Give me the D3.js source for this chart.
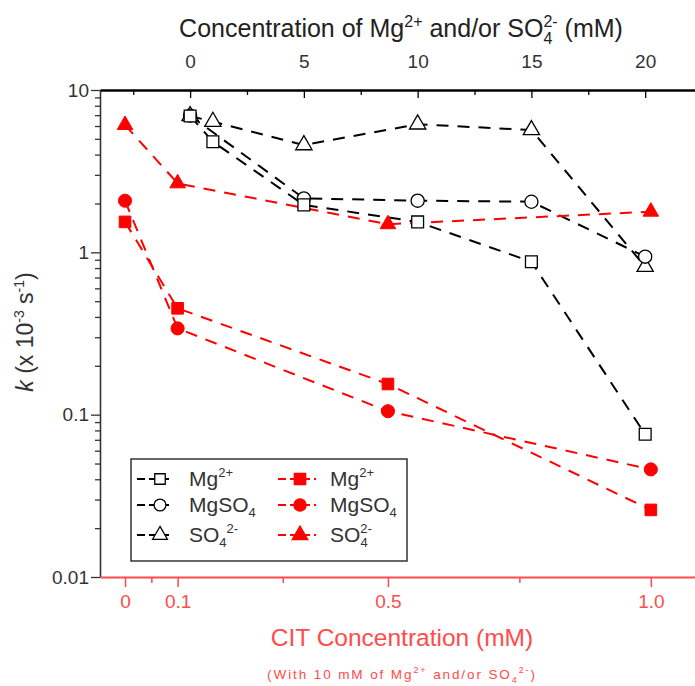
<!DOCTYPE html>
<html><head><meta charset="utf-8">
<script src="https://cdn.jsdelivr.net/npm/d3@7"></script>
<style>
html,body{margin:0;padding:0;background:#fff;}
svg{display:block;font-family:"Liberation Sans",Arial,sans-serif;}
</style></head>
<body><svg id="chart" width="695" height="686"></svg>
<script>
// ---- data ----
const topTicks = [0, 5, 10, 15, 20];
const topMinor = [-2.5, 2.5, 7.5, 12.5, 17.5];
const botTicks = [0, 0.1, 0.5, 1.0];
const botLabels = ["0", "0.1", "0.5", "1.0"];
const botMinor = [0.05, 0.3, 0.75];
const yMajor = [0.01, 0.1, 1, 10];
const yLabels = ["0.01", "0.1", "1", "10"];

const concMg = [0, 1, 5, 10, 15, 20];
const kMg = [6.92, 4.8, 1.96, 1.54, 0.875, 0.0757];
const concMgSO4 = [0, 5, 10, 15, 20];
const kMgSO4 = [6.95, 2.15, 2.08, 2.05, 0.94];
const concSO4 = [0, 1, 5, 10, 15, 20];
const kSO4 = [6.92, 6.38, 4.58, 6.15, 5.67, 0.815];

const cit = [0, 0.1, 0.5, 1.0];
const kCitMg = [1.54, 0.452, 0.1545, 0.0259];
const kCitMgSO4 = [2.08, 0.34, 0.105, 0.046];
const kCitSO4 = [6.09, 2.66, 1.49, 1.78];

// ---- layout ----
const L = 100, R = 695, T = 90, B = 577;
const RED = "#ff0000", AXRED = "#ff4b4b", TXT = "#333";
const svg = d3.select("#chart");

const xTop = d3.scaleLinear().domain([-3.96, 22.19]).range([L, R]);
const xBot = d3.scaleLinear().domain([-0.0476, 1.084]).range([L, R]);
const y = d3.scaleLog().domain([0.01, 10]).range([B, T]);

const yMinor = [];
[0.01, 0.1, 1].forEach(d => { for (let i = 2; i <= 9; i++) yMinor.push(+(d * i).toPrecision(3)); });

// ---- left axis ----
const gl = svg.append("g").attr("transform", `translate(${L},0)`);
gl.call(d3.axisLeft(y).tickValues(yMinor).tickSize(5).tickFormat(""));
gl.call(g => g.select(".domain").remove());
const gl2 = svg.append("g").attr("transform", `translate(${L},0)`);
gl2.call(d3.axisLeft(y).tickValues(yMajor).tickSize(9).tickPadding(2).tickSizeOuter(0)
  .tickFormat((d, i) => yLabels[i]));
svg.selectAll("g").selectAll(".tick line").attr("stroke", TXT).attr("stroke-width", 1.3);
gl2.select(".domain").attr("stroke", TXT).attr("stroke-width", 1.6);
gl2.selectAll("text").attr("font-size", 19).attr("fill", TXT).attr("font-family", "Liberation Sans, Arial");

// ---- top axis ----
const gt = svg.append("g").attr("transform", `translate(0,${T})`);
gt.call(d3.axisTop(xTop).tickValues(topMinor).tickSizeInner(-5).tickSizeOuter(0).tickFormat(""));
gt.select(".domain").remove();
const gt2 = svg.append("g").attr("transform", `translate(0,${T})`);
gt2.call(d3.axisTop(xTop).tickValues(topTicks).tickSizeInner(-8).tickSizeOuter(0).tickPadding(22));
gt.selectAll(".tick line").attr("stroke", "#000").attr("stroke-width", 1.3);
gt2.selectAll(".tick line").attr("stroke", "#000").attr("stroke-width", 1.3);
gt2.select(".domain").attr("stroke", "#000").attr("stroke-width", 2.6);
gt2.selectAll("text").attr("font-size", 19).attr("fill", TXT).attr("font-family", "Liberation Sans, Arial");

// ---- bottom axis ----
const gb = svg.append("g").attr("transform", `translate(0,${B})`);
gb.call(d3.axisBottom(xBot).tickValues(botMinor).tickSize(6).tickSizeOuter(0).tickFormat(""));
gb.select(".domain").remove();
const gb2 = svg.append("g").attr("transform", `translate(0,${B})`);
gb2.call(d3.axisBottom(xBot).tickValues(botTicks).tickSize(10).tickSizeOuter(0).tickPadding(8)
  .tickFormat((d, i) => botLabels[i]));
gb.selectAll(".tick line").attr("stroke", AXRED).attr("stroke-width", 1.5);
gb2.selectAll(".tick line").attr("stroke", AXRED).attr("stroke-width", 1.5);
gb2.select(".domain").attr("stroke", AXRED).attr("stroke-width", 2.2);
gb2.selectAll("text").attr("font-size", 19).attr("fill", AXRED).attr("font-family", "Liberation Sans, Arial");

// ---- series ----
function drawSeries(xs, ks, xScale, color) {
  const pts = xs.map((x, i) => [xScale(x), y(ks[i])]);
  svg.append("path").attr("d", d3.line()(pts)).attr("fill", "none")
    .attr("stroke", color).attr("stroke-width", 2).attr("stroke-dasharray", "12,9");
  return pts;
}
function drawMarkers(pts, color, shape, filled, size) {
  svg.append("g").selectAll("path").data(pts).join("path")
    .attr("transform", d => `translate(${d[0]},${d[1]})`)
    .attr("d", d3.symbol().type(shape).size(size))
    .attr("fill", filled ? color : "#fff")
    .attr("stroke", color).attr("stroke-width", filled ? 1 : 1.3);
}
const sTri = d3.symbolTriangle, sSq = d3.symbolSquare, sCi = d3.symbolCircle;
const pSO4 = drawSeries(concSO4, kSO4, xTop, "#000");
const pMgSO4 = drawSeries(concMgSO4, kMgSO4, xTop, "#000");
const pMg = drawSeries(concMg, kMg, xTop, "#000");
const pCSO4 = drawSeries(cit, kCitSO4, xBot, RED);
const pCMgSO4 = drawSeries(cit, kCitMgSO4, xBot, RED);
const pCMg = drawSeries(cit, kCitMg, xBot, RED);
drawMarkers(pSO4, "#000", sTri, false, 115);
drawMarkers(pMgSO4, "#000", sCi, false, 135);
drawMarkers(pMg, "#000", sSq, false, 140);
drawMarkers(pCSO4, RED, sTri, true, 105);
drawMarkers(pCMgSO4, RED, sCi, true, 135);
drawMarkers(pCMg, RED, sSq, true, 135);

// ---- legend ----
const lg = svg.append("g");
lg.append("rect").attr("x", 131).attr("y", 459).attr("width", 276).attr("height", 102)
  .attr("fill", "#fff").attr("stroke", TXT).attr("stroke-width", 1.5);
const rows = [479, 505, 535];
const legendItems = [
  {col: 0, row: 0, shape: sSq, color: "#000", filled: false, size: 110},
  {col: 0, row: 1, shape: sCi, color: "#000", filled: false, size: 110},
  {col: 0, row: 2, shape: sTri, color: "#000", filled: false, size: 95},
  {col: 1, row: 0, shape: sSq, color: RED, filled: true, size: 130},
  {col: 1, row: 1, shape: sCi, color: RED, filled: true, size: 120},
  {col: 1, row: 2, shape: sTri, color: RED, filled: true, size: 105}
];
const colSym = [[137, 172, 160], [278, 316, 300]];
legendItems.forEach(it => {
  const c = colSym[it.col], yy = rows[it.row];
  lg.append("line").attr("x1", c[0]).attr("x2", c[1]).attr("y1", yy).attr("y2", yy)
    .attr("stroke", it.color).attr("stroke-width", 2.2).attr("stroke-dasharray", "8,4");
  lg.append("path").attr("transform", `translate(${c[2]},${yy})`)
    .attr("d", d3.symbol().type(it.shape).size(it.size))
    .attr("fill", it.filled ? it.color : "#fff").attr("stroke", it.color).attr("stroke-width", 1.3);
});
const lfs = 21;
function legText(x, yy, parts) {
  const t = lg.append("text").attr("x", x).attr("y", yy).attr("font-size", lfs).attr("fill", TXT);
  parts.forEach(p => t.append("tspan").text(p.t).attr("dx", p.dx || null).attr("dy", p.dy || null)
    .attr("font-size", p.fs || null));
}
legText(189, rows[0] + 7, [{t: "Mg"}, {t: "2+", dy: -9, fs: 13}]);
legText(189, rows[1] + 7, [{t: "MgSO"}, {t: "4", dy: 5, fs: 13}]);
legText(189, rows[2] + 7, [{t: "SO"}, {t: "4", dy: 5, fs: 13}, {t: "2-", dy: -14, fs: 13}]);
legText(330, rows[0] + 7, [{t: "Mg"}, {t: "2+", dy: -9, fs: 13}]);
legText(330, rows[1] + 7, [{t: "MgSO"}, {t: "4", dy: 5, fs: 13}]);
legText(330, rows[2] + 7, [{t: "SO"}, {t: "2-", dy: -9, fs: 13}, {t: "4", dx: -11.5, dy: 14, fs: 13}]);

// ---- titles ----
const tt = svg.append("text").attr("x", 401).attr("y", 37).attr("text-anchor", "middle")
  .attr("font-size", 25).attr("fill", "#222");
tt.append("tspan").text("Concentration of Mg");
tt.append("tspan").text("2+").attr("dy", -10).attr("font-size", 16);
tt.append("tspan").text(" and/or SO").attr("dy", 10);
tt.append("tspan").text("2-").attr("dy", -10).attr("font-size", 16);
tt.append("tspan").text("4").attr("dx", -14.2).attr("dy", 17).attr("font-size", 16);
tt.append("tspan").text(" (mM)").attr("dx", 5.3).attr("dy", -7);

const yt = svg.append("text").attr("transform", "translate(33,332) rotate(-90)")
  .attr("text-anchor", "middle").attr("font-size", 23).attr("fill", TXT);
yt.append("tspan").text("k").attr("font-style", "italic");
yt.append("tspan").text(" (x 10");
yt.append("tspan").text("-3").attr("dy", -9).attr("font-size", 14);
yt.append("tspan").text(" s").attr("dy", 9);
yt.append("tspan").text("-1").attr("dy", -9).attr("font-size", 14);
yt.append("tspan").text(")").attr("dy", 9);

svg.append("text").attr("x", 402).attr("y", 646).attr("text-anchor", "middle")
  .attr("font-size", 24.5).attr("fill", AXRED).text("CIT Concentration (mM)");

const st = svg.append("text").attr("x", 402).attr("y", 679).attr("text-anchor", "middle")
  .attr("font-size", 13.5).attr("fill", AXRED).attr("letter-spacing", 1.9);
st.append("tspan").text("(With 10 mM of Mg");
st.append("tspan").text("2+").attr("dy", -6).attr("font-size", 9);
st.append("tspan").text(" and/or SO").attr("dy", 6);
st.append("tspan").text("4").attr("dy", 4).attr("font-size", 9);
st.append("tspan").text("2-").attr("dy", -10).attr("font-size", 9);
st.append("tspan").text(")").attr("dy", 6);
</script></body></html>
